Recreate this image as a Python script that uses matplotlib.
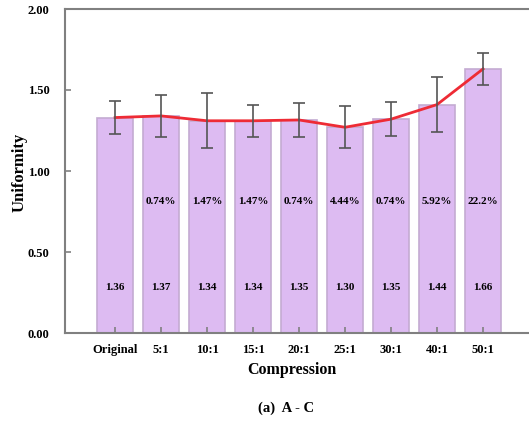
import numpy as np
import matplotlib.pyplot as plt

categories = ['Original', '5:1', '10:1', '15:1', '20:1', '25:1', '30:1', '40:1', '50:1']
uniformity = [1.33, 1.34, 1.31, 1.31, 1.315, 1.27, 1.32, 1.41, 1.63]
errors = [0.10, 0.13, 0.17, 0.10, 0.105, 0.13, 0.105, 0.17, 0.10]
value_labels = ['1.36', '1.37', '1.34', '1.34', '1.35', '1.30', '1.35', '1.44', '1.66']
change_labels = ['', '0.74%', '1.47%', '1.47%', '0.74%', '4.44%', '0.74%', '5.92%', '22.2%']

plt.rcParams['font.family'] = ['Liberation Serif', 'DejaVu Serif']
plt.rcParams['font.weight'] = 'bold'

fig = plt.figure(figsize=(5.29, 4.23), dpi=100)
ax = fig.add_axes([65 / 529, 1 - 333 / 423, 1 - 65 / 529, 324 / 423])

x = np.arange(len(categories))
ax.bar(x, uniformity, width=0.78, color='#DDBBF2', edgecolor='#C4ABD2', linewidth=1.2, zorder=1)
ax.errorbar(x, uniformity, yerr=errors, fmt='none', ecolor='#555555', elinewidth=1.2,
            capsize=4.5, capthick=1.2, zorder=3)
ax.plot(x, uniformity, color='#EE2B35', linewidth=2, zorder=2)

for i in range(len(categories)):
    ax.text(x[i], 0.28, value_labels[i], ha='center', va='center', fontsize=8, fontweight='bold')
    if change_labels[i]:
        ax.text(x[i], 0.81, change_labels[i], ha='center', va='center', fontsize=8, fontweight='bold')

ax.set_xlim(-1.09, 9.0)
ax.set_ylim(0, 2.0)
ax.set_yticks([0, 0.5, 1.0, 1.5, 2.0])
ax.set_yticklabels(['0.00', '0.50', '1.00', '1.50', '2.00'])
ax.set_xticks(x)
ax.set_xticklabels(categories)
ax.tick_params(direction='in', length=4, width=1.2, color='#808080', labelsize=9, pad=8)
ax.tick_params(axis='y', pad=11)

for s in ['left', 'bottom', 'top']:
    ax.spines[s].set_color('#808080')
    ax.spines[s].set_linewidth(1.5)
ax.spines['right'].set_visible(False)

fig.text(20 / 529, 1 - 172 / 423, 'Uniformity', rotation=90, ha='center', va='center',
         fontsize=12, fontweight='bold')
fig.text(292 / 529, 1 - 370 / 423, 'Compression', ha='center', va='center', fontsize=11.5, fontweight='bold')
fig.text(286 / 529, 1 - 408 / 423, '(a)  A - C', ha='center', va='center', fontsize=10.5, fontweight='bold')

fig.savefig('out.png', dpi=100)
